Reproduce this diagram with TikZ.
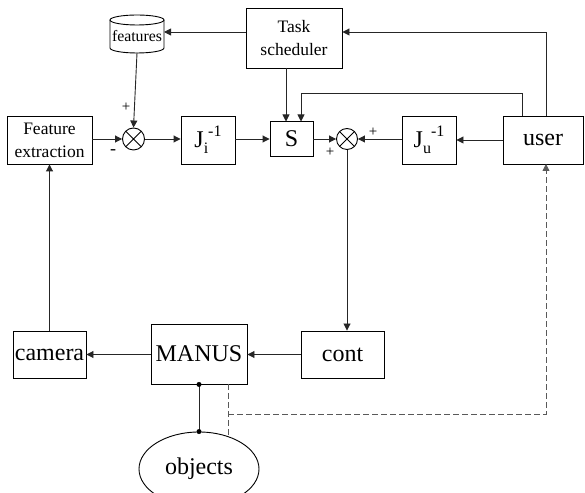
\documentclass[tikz,border=0pt]{standalone}
\usepackage{fontspec}
\setmainfont{Liberation Serif}
\usetikzlibrary{arrows.meta,shapes.geometric}
\newcommand{\Jinv}[1]{J\raisebox{-0.25em}{\fontsize{16}{16}\selectfont #1}\raisebox{0.45em}{\fontsize{16}{16}\selectfont -1}}
\begin{document}
\begin{tikzpicture}[x=1pt,y=1pt,
  box/.style={draw=black, line width=0.9pt, inner sep=0pt, align=center, font=\fontsize{24}{26}\selectfont},
  smallbox/.style={box, font=\fontsize{17.5}{23}\selectfont},
  sumnode/.style={draw=black, line width=0.9pt, circle, minimum size=22pt, inner sep=0pt, path picture={
      \draw[line width=0.9pt] (path picture bounding box.south west) -- (path picture bounding box.north east)
        (path picture bounding box.north west) -- (path picture bounding box.south east);}},
  conn/.style={draw=black!85, line width=0.9pt},
  arr/.style={conn, -{Triangle[length=7pt,width=7pt]}},
  dashline/.style={draw=black!65, line width=0.8pt, dash pattern=on 6pt off 3pt},
  lbl/.style={font=\fontsize{15}{15}\selectfont, inner sep=0pt},
  dotn/.style={circle, fill=black, minimum size=5pt, inner sep=0pt}
]
\useasboundingbox (0,0) rectangle (585,492);
\clip (0,0) rectangle (585,492);

% nodes
\node[smallbox, minimum width=96pt, minimum height=60pt] (ts) at (294,454) {Task\\scheduler};
\node[inner sep=0pt, minimum width=54pt, minimum height=28pt, font=\fontsize{15.8}{16}\selectfont] (feat) at (137,456) {features};
\node[smallbox, minimum width=85pt, minimum height=48pt] (fe) at (49.5,352) {Feature\\extraction};
\node[sumnode] (s1) at (133.5,353) {};
\node[box, minimum width=54pt, minimum height=48pt] (ji) at (208,352) {\Jinv{i}};
\node[box, minimum width=43pt, minimum height=35pt] (S) at (291.5,353) {S};
\node[sumnode, minimum size=21pt] (s2) at (347,353) {};
\node[box, minimum width=54pt, minimum height=48pt] (ju) at (429,352) {\Jinv{u}};
\node[box, minimum width=80pt, minimum height=48pt] (user) at (543,352) {user};
\node[box, minimum width=73pt, minimum height=47pt] (cam) at (49.5,137.5) {camera};
\node[box, minimum width=96pt, minimum height=60pt] (manus) at (199,138) {MANUS};
\node[box, minimum width=83pt, minimum height=47pt] (cont) at (342.5,137.5) {cont};
\node[draw=black, line width=0.9pt, ellipse, minimum width=120pt, minimum height=74pt, inner sep=0pt, font=\fontsize{24}{26}\selectfont] (obj) at (199,23) {objects};

% cylinder for features
\draw[line width=0.9pt] (110,472) -- (110,444) arc[start angle=180, end angle=360, x radius=27pt, y radius=5pt] -- (164,472);
\draw[line width=0.9pt] (137,472) ellipse[x radius=27pt, y radius=5pt];

% connectors
\draw[arr] (ts.west |- 0,460) -- (164,460);
\draw[arr] (137,439) -- (s1.north);
\draw[arr] (fe.east |- s1) -- (s1.west);
\draw[arr] (s1.east) -- (ji.west |- s1);
\draw[arr] (ji.east |- S) -- (S.west);
\draw[arr] (S.east) -- (s2.west);
\draw[arr] (ju.west |- s2) -- (s2.east);
\draw[arr] (user.west |- ju) -- (ju.east);
\draw[arr] (286,424) -- (286,370.5);
\draw[arr] (522,376) -- (522,399) -- (301,399) -- (301,370.5);
\draw[arr] (546,376) -- (546,460) -- (ts.east |- 0,460);
\draw[arr] (s2.south) -- (s2.south |- cont.north);
\draw[arr] (cont.west) -- (manus.east |- cont);
\draw[arr] (manus.west |- cam) -- (cam.east);
\draw[arr] (cam.north -| 49.5,0) -- (fe.south);
\draw[conn] (manus.south) -- (obj.north);
\node[dotn] at (manus.south) {};
\node[dotn] at (obj.north) {};

% dashed
\draw[dashline] (228,108) -- (228,56);
\draw[dashline, -{Triangle[length=7pt,width=7pt]}] (228,78) -- (546,78) -- (546,328);

% labels
\node[lbl] at (126,385) {+};
\node[lbl, font=\fontsize{18}{18}\selectfont] at (113,340) {-};
\node[lbl] at (373,360) {+};
\node[lbl] at (330,340) {+};
\end{tikzpicture}
\end{document}
